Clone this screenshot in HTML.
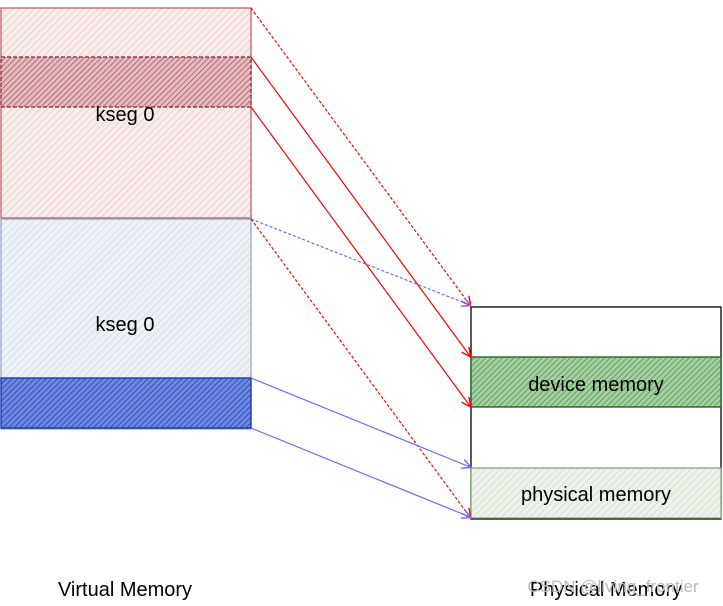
<!DOCTYPE html>
<html><head><style>body{margin:0;background:#fff}svg{display:block}text{font-family:"Comic Sans MS","Liberation Sans",sans-serif;font-size:20px}</style></head><body>
<svg width="723" height="606" viewBox="0 0 723 606">
<defs>
<pattern id="pr" width="5" height="5" patternUnits="userSpaceOnUse" patternTransform="rotate(45)"><rect width="5" height="5" fill="#f8eded"/><line x1="0" y1="0" x2="0" y2="5" stroke="#e8c4c4" stroke-width="1.5"/></pattern>
<pattern id="pdr" width="4" height="4" patternUnits="userSpaceOnUse" patternTransform="rotate(45)"><rect width="4" height="4" fill="#e2bcc0"/><line x1="0" y1="0" x2="0" y2="4" stroke="#a8404c" stroke-width="1.3"/></pattern>
<pattern id="pb" width="5" height="5" patternUnits="userSpaceOnUse" patternTransform="rotate(45)"><rect width="5" height="5" fill="#eef2f7"/><line x1="0" y1="0" x2="0" y2="5" stroke="#cdd8e6" stroke-width="1.5"/></pattern>
<pattern id="pdb" width="4" height="4" patternUnits="userSpaceOnUse" patternTransform="rotate(45)"><rect width="4" height="4" fill="#7088dc"/><line x1="0" y1="0" x2="0" y2="4" stroke="#1f3fc0" stroke-width="1.5"/></pattern>
<pattern id="pg" width="4" height="4" patternUnits="userSpaceOnUse" patternTransform="rotate(45)"><rect width="4" height="4" fill="#a7cfa3"/><line x1="0" y1="0" x2="0" y2="4" stroke="#4a9a48" stroke-width="1.5"/></pattern>
<pattern id="plg" width="5" height="5" patternUnits="userSpaceOnUse" patternTransform="rotate(45)"><rect width="5" height="5" fill="#eef3ec"/><line x1="0" y1="0" x2="0" y2="5" stroke="#cfdccb" stroke-width="1.5"/></pattern>
<marker id="ar" markerWidth="8" markerHeight="8" refX="7" refY="4" orient="auto"><path d="M0,0 L8,4 L0,8" fill="none" stroke="red" stroke-width="1.2"/></marker>
<marker id="ab" markerWidth="8" markerHeight="8" refX="7" refY="4" orient="auto"><path d="M0,0 L8,4 L0,8" fill="none" stroke="#6b6bff" stroke-width="1.2"/></marker>
</defs>
<rect x="1" y="8" width="250" height="210" fill="url(#pr)" stroke="#c06060" stroke-width="1.3"/>
<rect x="1" y="57" width="250" height="50" fill="url(#pdr)" stroke="#8a2030" stroke-width="1.2" stroke-dasharray="4 2"/>
<rect x="1" y="219" width="250" height="210" fill="url(#pb)" stroke="#8aa0c0" stroke-width="1.2"/>
<rect x="1" y="378" width="250" height="50" fill="url(#pdb)" stroke="#1030b0" stroke-width="1.3"/>
<text x="125" y="121" text-anchor="middle">kseg 0</text>
<text x="125" y="331" text-anchor="middle">kseg 0</text>
<rect x="471" y="307" width="250" height="212" fill="#fff" stroke="#000" stroke-width="1.3"/>
<rect x="471" y="357" width="250" height="50" fill="url(#pg)" stroke="#1f6a1f" stroke-width="1.4"/>
<rect x="471" y="468" width="250" height="50" fill="url(#plg)" stroke="#7aaa70" stroke-width="1.3"/>
<text x="596" y="391" text-anchor="middle">device memory</text>
<text x="596" y="501" text-anchor="middle">physical memory</text>
<g fill="none" stroke-width="1.2">
<line x1="251" y1="8" x2="470" y2="305" stroke="red" stroke-dasharray="3 2" marker-end="url(#ar)"/>
<line x1="251" y1="57" x2="470" y2="356" stroke="red" marker-end="url(#ar)"/>
<line x1="251" y1="107" x2="470" y2="406" stroke="red" marker-end="url(#ar)"/>
<line x1="251" y1="219" x2="470" y2="305" stroke="#6b6bff" stroke-dasharray="3 2" marker-end="url(#ab)"/>
<line x1="251" y1="219" x2="470" y2="517" stroke="red" stroke-dasharray="3 2" marker-end="url(#ar)"/>
<line x1="251" y1="378" x2="470" y2="467" stroke="#6b6bff" marker-end="url(#ab)"/>
<line x1="251" y1="428" x2="470" y2="517" stroke="#6b6bff" marker-end="url(#ab)"/>
</g>
<text x="125" y="596" text-anchor="middle">Virtual Memory</text>
<text x="606" y="596" text-anchor="middle">Physical Memory</text>
<text x="613" y="592" text-anchor="middle" fill="#bbb" style="font-family:'Liberation Sans',sans-serif;font-size:17px">CSDN @living_frontier</text>
</svg>
</body></html>
